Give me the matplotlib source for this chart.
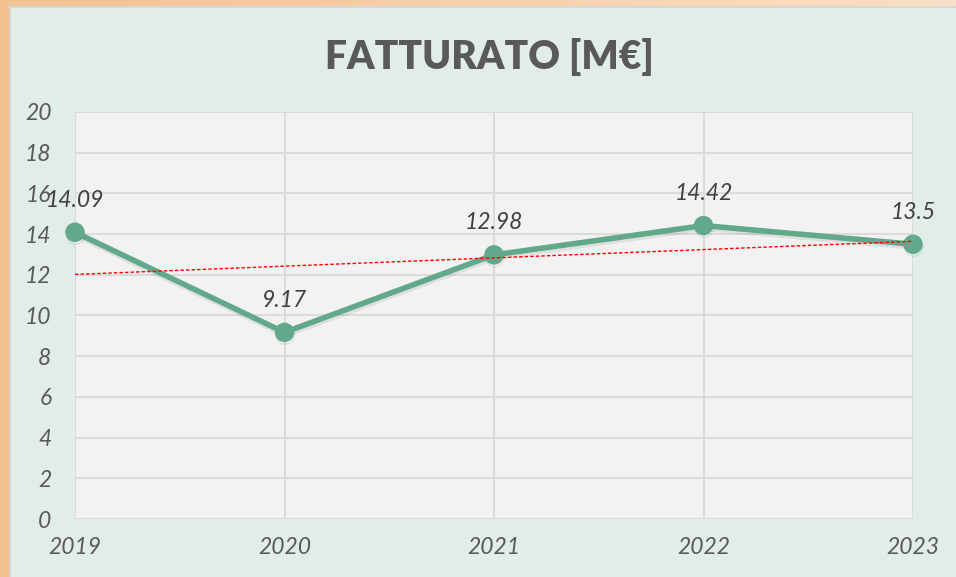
import matplotlib
matplotlib.use("Agg")
import matplotlib.pyplot as plt
import numpy as np
from matplotlib.patches import Rectangle
import matplotlib.patheffects as pe
from matplotlib.colors import LinearSegmentedColormap

years = ["2019", "2020", "2021", "2022", "2023"]
fatturato = [14.09, 9.17, 12.98, 14.42, 13.5]
y_ticks = [0, 2, 4, 6, 8, 10, 12, 14, 16, 18, 20]
title = "FATTURATO [M€]"

W, H = 956, 577
fig = plt.figure(figsize=(W / 100, H / 100), dpi=100)
fig.patch.set_facecolor("#e2ede9")

# slide border (orange) on left and top
fig.patches.append(Rectangle((0, 0), 9 / W, 1, transform=fig.transFigure,
                             facecolor="#f4c190", edgecolor="none", zorder=0))
grad = np.linspace(0, 1, 256).reshape(1, -1)
axg = fig.add_axes([0, 1 - 6 / H, 1, 6 / H])
cm = LinearSegmentedColormap.from_list("o", ["#f4c190", "#fcdfc6"])
axg.imshow(grad, aspect="auto", cmap=cm, extent=[0, 1, 0, 1])
axg.axis("off")
fig.lines.append(plt.Line2D([9 / W, 1], [1 - 7 / H, 1 - 7 / H], transform=fig.transFigure,
                            color="#d4d8d6", lw=1.5))
fig.lines.append(plt.Line2D([10 / W, 10 / W], [0, 1 - 7 / H], transform=fig.transFigure,
                            color="#d4d8d6", lw=1.5))

left, right, top, bottom = 75, 913, 112, 519
ax = fig.add_axes([left / W, 1 - bottom / H, (right - left) / W, (bottom - top) / H])
ax.set_facecolor("#f2f2f2")

x = np.arange(len(years))
ax.set_xlim(0, len(years) - 1)
ax.set_ylim(0, 20)
ax.set_yticks(y_ticks)
ax.set_xticks(x)
ax.set_xticklabels(years)
ax.grid(True, color="#d9d9d9", lw=1.3)
ax.set_axisbelow(True)
for s in ax.spines.values():
    s.set_visible(False)
ax.tick_params(length=0, colors="#595959", labelsize=16.5)
ax.tick_params(axis="y", pad=17)
ax.tick_params(axis="x", pad=13)
for lab in ax.get_xticklabels() + ax.get_yticklabels():
    lab.set_fontstyle("italic")
    lab.set_fontfamily("Lato")

# trend line (linear fit)
coef = np.polyfit(x, fatturato, 1)
ax.plot(x, np.polyval(coef, x), color="#ff0000", lw=1, ls=(0, (2.5, 1.5)), zorder=4, clip_on=False)

ax.plot(x, fatturato, color="#62a98b", lw=4, marker="o", ms=13,
        markerfacecolor="#62a98b", markeredgecolor="#62a98b", zorder=3, clip_on=False,
        path_effects=[pe.SimpleLineShadow(offset=(0.5, -2), shadow_color="#000000", alpha=0.08),
                      pe.Normal()])

for xi, v in zip(x, fatturato):
    ax.annotate(f"{v:g}", (xi, v), xytext=(0, 23), textcoords="offset points",
                ha="center", va="center", fontsize=16.5, fontstyle="italic",
                family="Lato", color="#404040", zorder=5, annotation_clip=False)

fig.text(489 / W, 1 - 57 / H, title, ha="center", va="center", fontsize=28,
         fontweight="heavy", family="Lato", color="#595959")

fig.savefig("out.png", dpi=100, facecolor=fig.get_facecolor())
